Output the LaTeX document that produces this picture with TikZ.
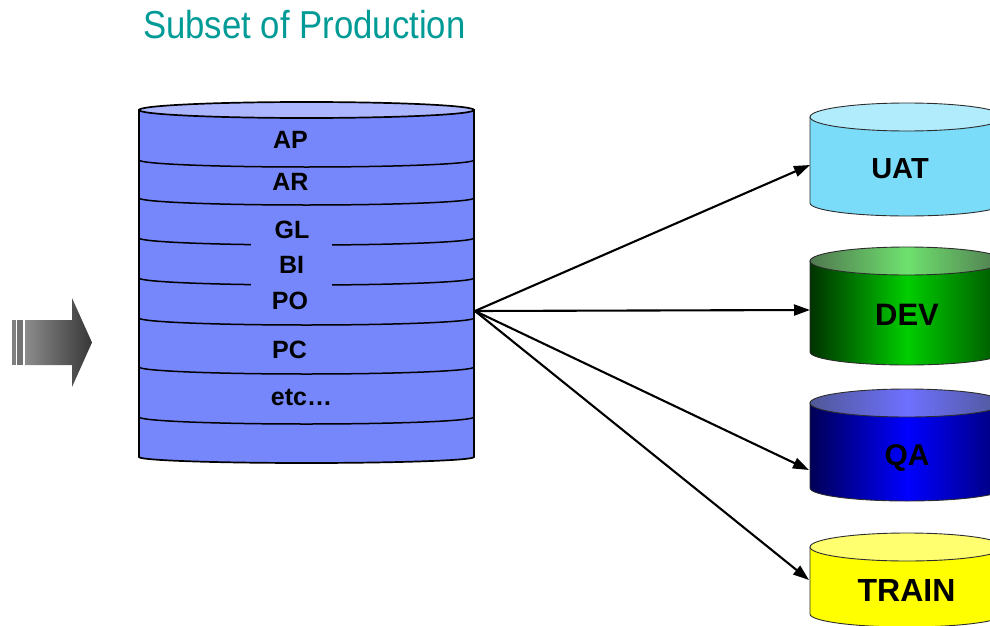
\documentclass[tikz,border=0pt]{standalone}
\usepackage{fontspec}
\setmainfont{Liberation Sans}
\newfontfamily\titlefont[FakeStretch=0.89]{Liberation Sans}
\usetikzlibrary{arrows.meta}

\definecolor{titleteal}{RGB}{0,155,150}
\definecolor{mainbody}{RGB}{117,135,250}
\definecolor{maintop}{RGB}{172,182,255}
\definecolor{arrowlight}{RGB}{140,140,140}
\definecolor{arrowdark}{RGB}{55,55,55}
\definecolor{stripegray}{RGB}{128,128,128}
\definecolor{cylline}{RGB}{45,45,45}
\definecolor{uatbody}{RGB}{122,220,249}
\definecolor{uattop}{RGB}{176,236,252}
\definecolor{devdark}{RGB}{0,50,0}
\definecolor{devmid}{RGB}{0,205,0}
\definecolor{devtopdark}{RGB}{80,120,80}
\definecolor{devtopmid}{RGB}{110,225,110}
\definecolor{qadark}{RGB}{0,0,85}
\definecolor{qamid}{RGB}{0,0,255}
\definecolor{qatopdark}{RGB}{80,88,150}
\definecolor{qatopmid}{RGB}{110,112,255}
\definecolor{trainbody}{RGB}{255,255,0}
\definecolor{traintop}{RGB}{255,255,112}

\tikzset{
  titletext/.style={inner sep=0pt, text=titleteal, font=\titlefont\fontsize{39}{44}\selectfont},
  layerlabel/.style={inner sep=0pt, anchor=base, font=\bfseries\fontsize{25}{28}\selectfont},
  dblabel/.style={inner sep=0pt, anchor=base, font=\bfseries\fontsize{#1}{34}\selectfont},
  dblabel/.default=30,
  mainline/.style={draw=black, line width=1.7pt},
  layerline/.style={draw=black, line width=1.5pt},
  cylborder/.style={draw=cylline, line width=0.9pt},
  link/.style={draw=black, line width=2.1pt, -{Triangle[length=16pt,width=11pt]}},
}

% right-hand database drum: #1 top centre y, #2 bottom side y, #3 body paint, #4 lid paint
\newcommand\targetdb[4]{%
  \path[cylborder,#3] (810,-#1) -- (810,-#2)
    arc[start angle=180,end angle=360,x radius=97,y radius=13] -- (1004,-#1) -- cycle;
  \path[cylborder,#4] (907,-#1) ellipse[x radius=97,y radius=14];
}

\begin{document}
\begin{tikzpicture}[x=1pt,y=1pt]
\useasboundingbox (0,0) rectangle (990,-626);
\clip (0,0) rectangle (990,-626);

% heading
\node[titletext, anchor=base west] (title) at (143,-38.5) {Subset of Production};

% incoming block arrow
\shade[left color=arrowlight, right color=arrowdark]
  (25,-320) -- (72,-320) -- (72,-298) -- (92,-342.5) -- (72,-387) -- (72,-365) -- (25,-365) -- cycle;
\fill[stripegray] (12,-320) rectangle (16,-365);
\fill[stripegray!90!black] (17,-320) rectangle (23,-365);

% production subset drum
\path[mainline, fill=mainbody] (139,-110) -- (139,-457)
  arc[start angle=180,end angle=360,x radius=167.5,y radius=6] -- (474,-110) -- cycle;
\foreach \ly in {160,198,238,278,318,367,417}
  \draw[layerline] (139,-\ly) arc[start angle=180,end angle=360,x radius=167.5,y radius=7];
\fill[mainbody] (251,-205.6) rectangle (332,-300);
\path[mainline, fill=maintop] (306.5,-110) ellipse[x radius=167.5,y radius=8];

\node[layerlabel] (ap)  at (290.5,-148) {AP};
\node[layerlabel] (ar)  at (290.5,-190) {AR};
\node[layerlabel] (gl)  at (292,-238) {GL};
\node[layerlabel] (bi)  at (291.5,-273) {BI};
\node[layerlabel] (po)  at (290,-309) {PO};
\node[layerlabel] (pc)  at (289.5,-358) {PC};
\node[layerlabel] (etc) at (301.5,-405) {etc\ldots};

% target environments
\targetdb{117}{203}{fill=uatbody}{fill=uattop}
\targetdb{261}{352}{left color=devdark, right color=devdark!80!devmid, middle color=devmid}{left color=devtopdark, right color=devtopdark, middle color=devtopmid}
\targetdb{403}{488}{left color=qadark, right color=qadark!80!qamid, middle color=qamid}{left color=qatopdark, right color=qatopdark, middle color=qatopmid}
\targetdb{547}{614}{fill=trainbody}{fill=traintop}

\node[dblabel=29] (uat)   at (900,-178) {UAT};
\node[dblabel=31] (dev)   at (907,-325) {DEV};
\node[dblabel=30] (qa)    at (907,-465) {QA};
\node[dblabel=32] (train) at (906.5,-601) {TRAIN};

% copy connectors
\coordinate (fan)     at (475,-311);
\coordinate (uatin)   at (810,-165);
\coordinate (devin)   at (810,-310);
\coordinate (qain)    at (809,-470);
\coordinate (trainin) at (809,-580);
\draw[link] (fan) -- (uatin);
\draw[link] (fan) -- (devin);
\draw[link] (fan) -- (qain);
\draw[link] (fan) -- (trainin);
\end{tikzpicture}
\end{document}
